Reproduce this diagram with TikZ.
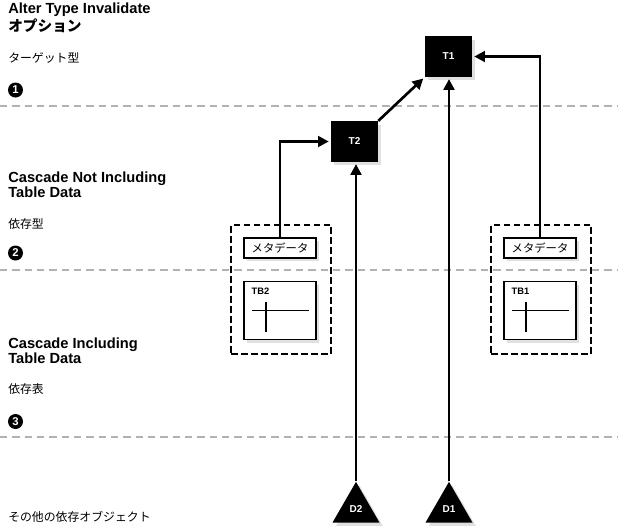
\documentclass[tikz,border=0pt]{standalone}
\usepackage{fontspec}
\setmainfont{Liberation Sans}
\newfontfamily\jp{Noto Sans CJK JP}
\usetikzlibrary{arrows.meta, shapes.geometric, shadows, positioning, fit}

\begin{document}
\begin{tikzpicture}[x=0.75pt,y=-0.75pt,>={Triangle[length=8pt,width=8pt]}]

	\tikzset{box shade/.style={drop shadow={shadow xshift=2.5pt,
				shadow yshift=-2.5pt, fill=black!12, opacity=1}},
		obj st/.style={fill=black, text=white, inner sep=0pt,
			minimum width=35.25pt, minimum height=30.5pt,
			font=\bfseries\fontsize{7.5}{9}\selectfont, box shade},
		dep st/.style={regular polygon, regular polygon sides=3,
			fill=black, text=white, inner sep=0pt, minimum size=40.7pt,
			font=\bfseries\fontsize{7.5}{9}\selectfont, box shade},
		meta st/.style={draw, line width=0.9pt, fill=white, inner sep=0pt,
			minimum width=54pt, minimum height=15pt,
			font=\jp\fontsize{8.5}{10}\selectfont, box shade},
		tbl st/.style={draw, line width=0.9pt, fill=white,
			minimum width=54pt, minimum height=43.5pt, box shade},
		group st/.style={draw, line width=1.6pt, dash pattern=on 5pt off 2.5pt,
			inner sep=10pt},
		divider/.style={draw=black!30, line width=1.1pt,
			dash pattern=on 5.5pt off 3.75pt},
		flow/.style={->, line width=2pt, shorten >=1.5pt},
		num st/.style={circle, fill=black, text=white, inner sep=0pt,
			minimum size=11.25pt, font=\bfseries\fontsize{8.5}{8.5}\selectfont},
		head/.style={anchor=base west, align=left, inner sep=0pt,
			font=\bfseries\fontsize{11}{10.9}\selectfont},
		note/.style={anchor=west, inner sep=0pt,
			font=\jp\fontsize{8.9}{10}\selectfont}}

	\useasboundingbox (0,0) rectangle (618,526);

	% level separators
	\foreach \y in {106,270,437}
	\draw[divider] (0,\y) -- (618,\y);

	% left column
	\node[head] (alter) at (8,31) {Alter Type Invalidate\\{\jp オプション}};
	\node[note] (target) at (8,58) {ターゲット型};
	\node[num st] (n1) at (15.5,90) {1};

	\node[head] (notincl) at (8,197) {Cascade Not Including\\Table Data};
	\node[note] (deptype) at (8,224) {依存型};
	\node[num st] (n2) at (15.5,253) {2};

	\node[head] (incl) at (8,363) {Cascade Including\\Table Data};
	\node[note] (deptbl) at (8,389) {依存表};
	\node[num st] (n3) at (15.5,421.5) {3};

	\node[note] (others) at (8,517) {その他の依存オブジェクト};

	% types
	\node[obj st] (T1) at (448.5,56.5) {T1};
	\node[obj st] (T2) at (354.5,141.5) {T2};

	% dependent tables
	\node[meta st] (M2) at (280,248) {メタデータ};
	\node[tbl st, below=16.5pt of M2] (TB2) {};
	\node[meta st] (M1) at (540,248) {メタデータ};
	\node[tbl st, below=16.5pt of M1] (TB1) {};

	\foreach \t/\n in {TB2/TB2, TB1/TB1} {
		\node[anchor=base west, inner sep=0pt,
		font=\bfseries\fontsize{7}{8}\selectfont]
		(\t lbl) at ([shift={(8,13.5)}]\t.north west) {\n};
		\draw[line width=0.8pt] ([shift={(-28,0)}]\t.center) -- ++(57,0);
		\draw[line width=0.8pt] ([shift={(-14,-8)}]\t.center) -- ++(0,30);
	}

	\node[group st, fit=(M2)(TB2), xshift=1pt, yshift=-0.5pt] (G2) {};
	\node[group st, fit=(M1)(TB1), xshift=1pt, yshift=-0.5pt] (G1) {};

	% other dependents
	\node[dep st] (D2) at (356,509) {D2};
	\node[dep st] (D1) at (449,509) {D1};

	\draw[flow] (M2.north) |- (T2.west);
	\draw[flow] (M1.north) |- (T1.east);
	\draw[flow] (D2.north) -- (D2.north |- T2.south);
	\draw[flow] (D1.north) -- (D1.north |- T1.south);
	\draw[flow] (T2.north east) -- (T1.south west);

\end{tikzpicture}
\end{document}
